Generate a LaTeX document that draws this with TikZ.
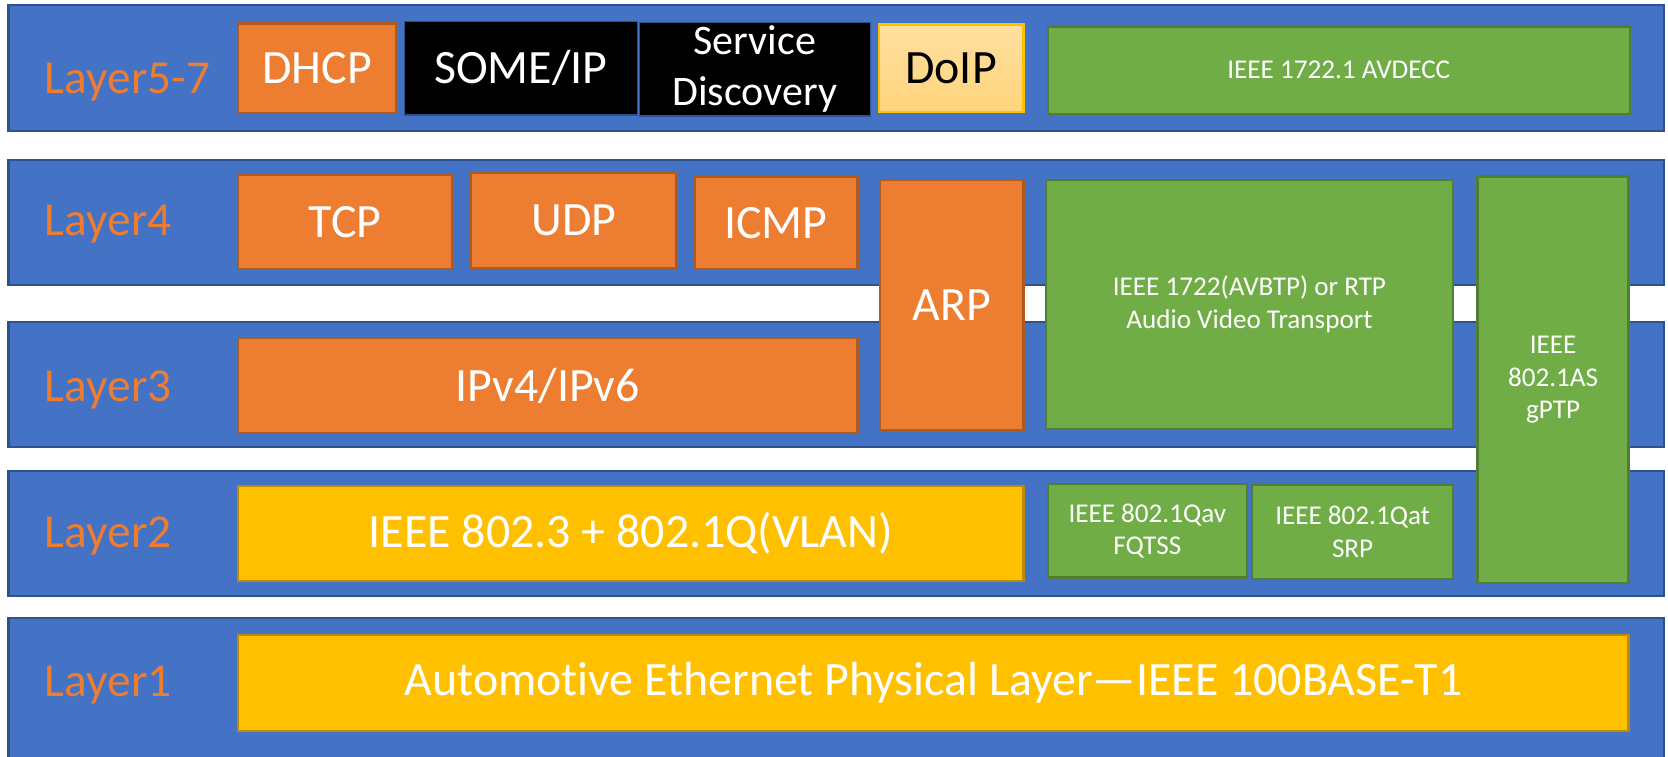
\documentclass[tikz,border=0pt]{standalone}
\usepackage{fontspec}
\setmainfont[Ligatures=NoCommon]{Carlito}
\definecolor{bandblue}{HTML}{4472C4}
\definecolor{bandedge}{HTML}{2F528F}
\definecolor{orfill}{HTML}{ED7D31}
\definecolor{oredge}{HTML}{AE5A21}
\definecolor{grfill}{HTML}{70AD47}
\definecolor{gredge}{HTML}{507E32}
\definecolor{gofill}{HTML}{FFC000}
\definecolor{goedge}{HTML}{BC8C00}
\definecolor{dotop}{HTML}{FFE0A0}
\definecolor{dobot}{HTML}{FFD47C}
\begin{document}
\begin{tikzpicture}[x=1pt,y=-1pt,
  band/.style={draw=bandedge, fill=bandblue, line width=2pt, minimum width=1556pt, inner sep=0pt},
  lbl/.style={anchor=base west, text=orfill, font=\fontsize{44.5}{53}\selectfont, inner sep=0pt},
  box/.style={line width=2.2pt, inner sep=0pt, align=center, text=white},
  big/.style={font=\fontsize{45}{54}\selectfont},
  small/.style={font=\fontsize{25.5}{30.5}\selectfont},
  orbox/.style={box, big, draw=oredge, fill=orfill},
  grbox/.style={box, small, draw=gredge, fill=grfill},
  gobox/.style={box, big, draw=goedge, fill=gofill},
  blkbox/.style={box, draw=bandedge, line width=1.2pt, fill=black}
]
\useasboundingbox (0,0) rectangle (1568,711.6);

% bands
\node[band, minimum height=118pt] (b57) at (786,64) {};
\node[band, minimum height=118pt] (b4) at (786,209) {};
\node[band, minimum height=117pt] (b3) at (786,361.5) {};
\node[band, minimum height=117pt] (b2) at (786,501.5) {};
\node[band, minimum height=140pt] (b1) at (786,651) {};

% layer labels
\node[lbl] (l57) at (42,88) {Layer5-7};
\node[lbl] (l4) at (42,221) {Layer4};
\node[lbl] (l3) at (42,377.5) {Layer3};
\node[lbl] (l2) at (42,515) {Layer2};
\node[lbl] (l1) at (42,655) {Layer1};

% layer 5-7
\node[orbox, minimum width=148pt, minimum height=84pt] (dhcp) at (298,64) {DHCP};
\node[blkbox, big, minimum width=219pt, minimum height=88pt] (someip) at (489.5,64) {SOME/IP};
\node[blkbox, font=\fontsize{39.5}{47.5}\selectfont, minimum width=217pt, minimum height=88pt] (sd) at (709.5,65) {Service\\Discovery};
\node[box, big, text=black, draw=gofill, top color=dotop, bottom color=dobot, minimum width=136pt, minimum height=82pt] (doip) at (894,64) {DoIP};
\node[grbox, minimum width=547pt, minimum height=82pt] (avdecc) at (1258.5,66) {IEEE 1722.1 AVDECC};

% layer 4
\node[orbox, minimum width=201pt, minimum height=89pt] (tcp) at (324.5,208.5) {TCP};
\node[orbox, minimum width=193pt, minimum height=90pt] (udp) at (539.5,207) {UDP};
\node[orbox, minimum width=153pt, minimum height=87pt] (icmp) at (729.5,209.5) {ICMP};
\node[orbox, minimum width=135pt, minimum height=235pt] (arp) at (894.5,286.5) {ARP};
\node[grbox, minimum width=383pt, minimum height=234pt] (avbtp) at (1174.5,286) {IEEE 1722(AVBTP) or RTP\\Audio Video Transport};
\node[grbox, minimum width=142pt, minimum height=382pt] (gptp) at (1460,357) {IEEE\\802.1AS\\gPTP};

% layer 3
\node[orbox, minimum width=582pt, minimum height=89pt] (ip) at (515,362.5) {IPv4/IPv6};

% layer 2
\node[gobox, minimum width=738pt, minimum height=89pt] (vlan) at (593,501.5) {IEEE 802.3 + 802.1Q(VLAN)};
\node[grbox, minimum width=187pt, minimum height=88pt] (qav) at (1078.5,499) {IEEE 802.1Qav\\FQTSS};
\node[grbox, minimum width=189pt, minimum height=88pt] (qat) at (1271.5,500) {IEEE 802.1Qat\\SRP};

% layer 1
\node[gobox, minimum width=1307pt, minimum height=90pt] (phy) at (877.5,642) {Automotive Ethernet Physical Layer—IEEE 100BASE-T1};
\end{tikzpicture}
\end{document}
